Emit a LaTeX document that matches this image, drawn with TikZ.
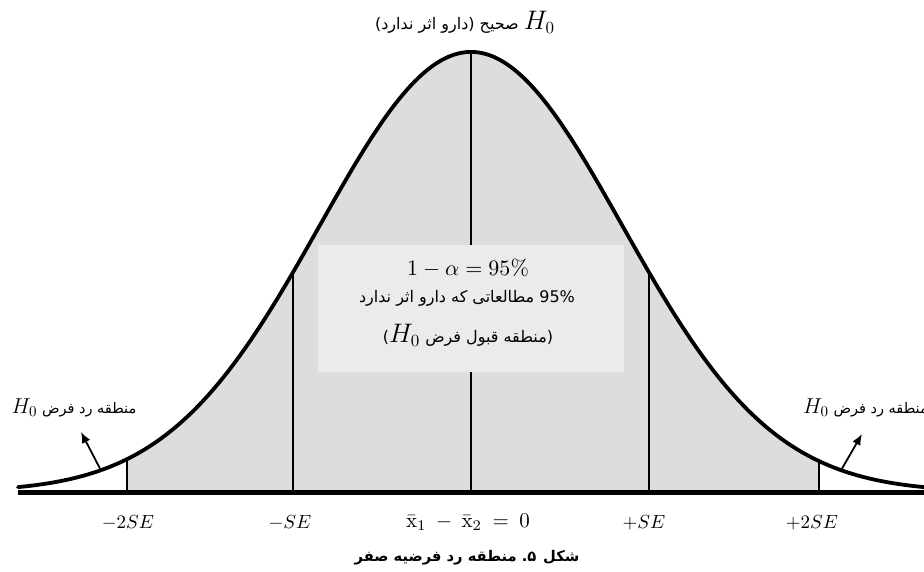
\documentclass[tikz,border=0pt]{standalone}
\usepackage{graphicx}
\usepackage{fontspec}
\newfontfamily\arabicfont[Script=Arabic]{DejaVu Sans}
\TeXXeTstate=1
\usetikzlibrary{arrows.meta}
\definecolor{curvefill}{HTML}{DDDDDD}
\definecolor{boxfill}{HTML}{EBEBEB}
\newcommand{\mlbl}[2]{\scalebox{#1}{$#2$}}
\tikzset{
  curveline/.style={line width=3.8pt, line join=round, line cap=round},
  baseline/.style={line width=5pt},
  markline/.style={line width=2.8pt},
  pointer/.style={line width=1.8pt, -{Latex[length=11pt,width=9pt]}},
  axislabel/.style={inner sep=0pt},
  boxmath/.style={inner sep=0pt},
  artext/.style={font=\arabicfont\fontsize{16}{19}\selectfont, inner sep=0pt},
  sidetext/.style={font=\arabicfont\fontsize{14.5}{17}\selectfont, inner sep=0pt},
  captiontext/.style={font=\arabicfont\bfseries\fontsize{14.7}{17}\selectfont, inner sep=0pt}
}
\begin{document}
\begin{tikzpicture}[x=1pt,y=-1pt,
  declare function={f(\t)=492-440*exp(-0.5*((\t-471)/151)^2);}]
\useasboundingbox (0,0) rectangle (924,572);
\fill[white] (0,0) rectangle (924,572);

% shaded acceptance region
\fill[curvefill] (127,492) -- plot[domain=127:819, samples=150] (\x,{f(\x)}) -- (819,492) -- cycle;
\fill[boxfill] (318,245) rectangle (624,372);

% coordinates on the curve
\coordinate (b1) at (127,492);
\coordinate (t1) at (127,{f(127)});
\coordinate (b2) at (293,492);
\coordinate (t2) at (293,{f(293)});
\coordinate (b3) at (471,492);
\coordinate (t3) at (471,{f(471)});
\coordinate (m3a) at (471,245);
\coordinate (m3b) at (471,372);
\coordinate (b4) at (649,492);
\coordinate (t4) at (649,{f(649)});
\coordinate (b5) at (819,492);
\coordinate (t5) at (819,{f(819)});
\coordinate (la) at (18,492);
\coordinate (ra) at (924,492);
\coordinate (lp) at (100,{f(100)-2});
\coordinate (lh) at (81,432);
\coordinate (rp) at (842,{f(842)-2});
\coordinate (rh) at (862,434);

% vertical markers
\draw[markline] (b1) -- (t1);
\draw[markline] (b2) -- (t2);
\draw[markline] (t3) -- (m3a);
\draw[markline] (m3b) -- (b3);
\draw[markline] (b4) -- (t4);
\draw[markline] (b5) -- (t5);

% curve and axis
\draw[curveline] plot[domain=18:924, samples=250] (\x,{f(\x)});
\draw[baseline] (la) -- (ra);

% pointers
\draw[pointer] (lp) -- (lh);
\draw[pointer] (rp) -- (rh);

% texts (parentheses are mirrored by the Arabic shaping, so they are written swapped)
\node[artext] (top) at (465,22) {)\beginR دارو اثر ندارد\endR( \beginR صحیح\endR{} \mlbl{1.55}{H_0}};
\node[boxmath] (alpha) at (468,268) {\mlbl{2.2}{1-\alpha=95\%}};
\node[artext] (study) at (467,298) {\beginR مطالعاتی که دارو اثر ندارد\endR{} 95\%};
\node[artext] (accept) at (468,335) {)\mlbl{1.55}{H_0} \beginR منطقه قبول فرض\endR(};
\node[sidetext] (rejl) at (74,408) {\mlbl{1.5}{H_0} \beginR منطقه رد فرض\endR};
\node[sidetext, anchor=west] (rejr) at (803,408) {\mlbl{1.5}{H_0} \beginR منطقه رد فرض\endR};

\node[axislabel] (l1) at (128,523) {\mlbl{1.9}{-2SE}};
\node[axislabel] (l2) at (290,523) {\mlbl{1.9}{-SE}};
\node[axislabel] (l3) at (468,522) {\mlbl{2.1}{\bar{\mathrm{x}}_1\:-\:\bar{\mathrm{x}}_2\:=\:0}};
\node[axislabel] (l4) at (644,523) {\mlbl{1.9}{+SE}};
\node[axislabel] (l5) at (812,523) {\mlbl{1.9}{+2SE}};

\node[captiontext] (cap) at (467,558) {\beginR منطقه رد فرضیه صفر\endR{} ۵. \beginR شکل\endR};
\end{tikzpicture}
\end{document}
